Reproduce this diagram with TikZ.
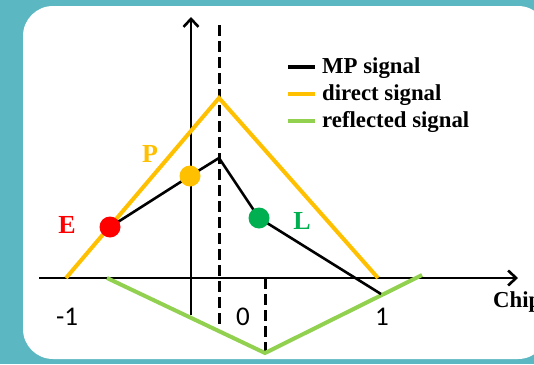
\documentclass[tikz,border=0pt]{standalone}
\usepackage{fontspec}
\setmainfont{Liberation Serif}
\newfontfamily\tickfont{Carlito}
\usetikzlibrary{arrows.meta,positioning}
\definecolor{panelteal}{HTML}{5BB7C1}
\definecolor{directorange}{HTML}{FFC000}
\definecolor{reflgreen}{HTML}{92D050}
\definecolor{lategreen}{HTML}{00B050}
\tikzset{
  axisline/.style={line width=2.6pt, draw=black, -{Straight Barb[length=8pt,width=15pt]}},
  dashline/.style={line width=3pt, draw=black, dash pattern=on 11pt off 5pt},
  directline/.style={line width=4pt, draw=directorange},
  reflline/.style={line width=4pt, draw=reflgreen},
  mpline/.style={line width=2.6pt, draw=black},
  dot/.style={circle, inner sep=0pt, minimum size=21pt},
  legtext/.style={font=\fontsize{22.8}{26}\selectfont\bfseries, anchor=base west, inner sep=0pt},
  corrlabel/.style={font=\fontsize{26}{28}\selectfont\bfseries, anchor=base, inner sep=0pt},
  ticklabel/.style={font=\fontsize{27}{30}\selectfont\tickfont, anchor=base, inner sep=0pt}
}

\begin{document}
\begin{tikzpicture}[x=1pt, y=-1pt]
    \useasboundingbox[fill=panelteal] (0,0) rectangle (534,364);
    \fill[white, rounded corners=30pt] (23,6) rectangle (548,359);

    % axes
    \coordinate (xstart) at (39,278);
    \coordinate (xend) at (518,278);
    \coordinate (ybot) at (191,315);
    \coordinate (ytop) at (191,17);
    \draw[axisline] (xstart) -- (xend);
    \draw[axisline] (ybot) -- (ytop);

    % dashed markers
    \coordinate (peaktop) at (219,25);
    \coordinate (peakbot) at (219,325);
    \coordinate (halftop) at (265,278);
    \coordinate (halfbot) at (265,353);
    \draw[dashline] (peaktop) -- (peakbot);
    \draw[dashline] (halftop) -- (halfbot);

    % direct and reflected
    \coordinate (dleft) at (66,278);
    \coordinate (dpeak) at (219,98);
    \coordinate (dright) at (378,278);
    \draw[directline] (dleft) -- (dpeak) -- (dright);
    \coordinate (rleft) at (107,278);
    \coordinate (rlow) at (265,353);
    \coordinate (rright) at (422,275);
    \draw[reflline] (rleft) -- (rlow) -- (rright);

    % MP signal
    \coordinate (early) at (110,227);
    \coordinate (prompt) at (190,176);
    \coordinate (mppeak) at (219,158);
    \coordinate (late) at (259,218);
    \coordinate (mpend) at (381,294);
    \draw[mpline] (early) -- (prompt) -- (mppeak) -- (late) -- (mpend);

    \node[dot, fill=red] (edot) at (early) {};
    \node[dot, fill=directorange] (pdot) at (prompt) {};
    \node[dot, fill=lategreen] (ldot) at (late) {};

    \node[corrlabel, text=red] (elabel) at (67,233) {E};
    \node[corrlabel, text=directorange] (plabel) at (150,162) {P};
    \node[corrlabel, text=lategreen] (llabel) at (302,229) {L};

    \node[ticklabel] (tminus) at (67,325) {-1};
    \node[ticklabel] (tzero) at (243,325) {0};
    \node[ticklabel] (tone) at (382,325) {1};
    \node[legtext] (chiplabel) at (493,307) {Chip};

    % legend
    \coordinate (lega) at (288,67);
    \coordinate (legaa) at (315,67);
    \coordinate (legb) at (288,94);
    \coordinate (legbb) at (315,94);
    \coordinate (legc) at (288,121);
    \coordinate (legcc) at (315,121);
    \draw[line width=4pt, black] (lega) -- (legaa);
    \draw[line width=4pt, directorange] (legb) -- (legbb);
    \draw[line width=4pt, reflgreen] (legc) -- (legcc);
    \node[legtext] (mptext) at (322,73) {MP signal};
    \node[legtext] (directtext) at (322,100) {direct signal};
    \node[legtext] (refltext) at (322,127) {reflected signal};
  \end{tikzpicture}
\end{document}
